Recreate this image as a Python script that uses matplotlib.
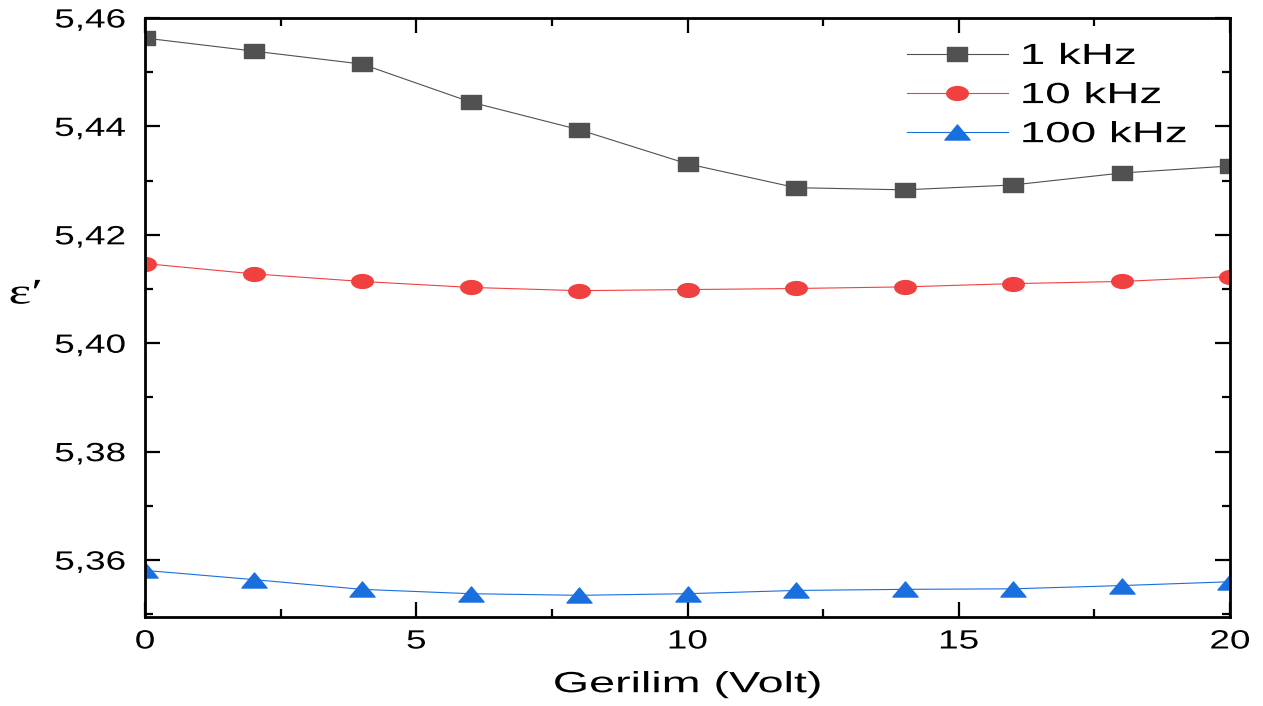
import matplotlib
matplotlib.use('Agg')
import numpy as np
import matplotlib.pyplot as plt
import matplotlib.patheffects as pe
from matplotlib.path import Path
from matplotlib.transforms import Affine2D
from matplotlib.ticker import MultipleLocator, FuncFormatter

plt.rcParams['font.family'] = ['Liberation Sans', 'DejaVu Sans']

volt = [0, 2, 4, 6, 8, 10, 12, 14, 16, 18, 20]
eps_1k = [5.4563, 5.4539, 5.4515, 5.4445, 5.4394, 5.4331, 5.4287, 5.4283, 5.4292, 5.4314, 5.4327]
eps_10k = [5.4147, 5.4128, 5.4114, 5.4103, 5.4097, 5.4099, 5.4101, 5.4104, 5.4110, 5.4114, 5.4123]
eps_100k = [5.3581, 5.3564, 5.3546, 5.3538, 5.3535, 5.3538, 5.3544, 5.3546, 5.3547, 5.3553, 5.3560]


# the original picture is stretched sideways, so text gets widened too
class Stretch(pe.AbstractPathEffect):
    def __init__(self, sx, anchor='center'):
        super().__init__()
        self.sx = sx
        self.anchor = anchor

    def draw_path(self, renderer, gc, tpath, affine, rgbFace=None):
        ext = tpath.get_extents()
        a = {'left': ext.x0, 'center': (ext.x0 + ext.x1) / 2, 'right': ext.x1}[self.anchor]
        t = Affine2D().translate(-a, 0).scale(self.sx, 1).translate(a, 0) + affine
        renderer.draw_path(gc, tpath, t, rgbFace)


# wide markers to match the stretched look
sq = Path([(-0.72, -0.5), (0.72, -0.5), (0.72, 0.5), (-0.72, 0.5), (-0.72, -0.5)],
          [1, 2, 2, 2, 79])
th = np.linspace(0, 2 * np.pi, 60)
ell = Path(np.column_stack([0.78 * np.cos(th), 0.5 * np.sin(th)]), closed=True)
tri = Path([(-0.83, -0.5), (0.83, -0.5), (0, 0.5), (-0.83, -0.5)], [1, 2, 2, 79])

fig = plt.figure(figsize=(12.63, 7.06), dpi=100)
ax = fig.add_axes([145/1263, 1-617/706, (1230-145)/1263, (617-18)/706])

ax.plot(volt, eps_1k, color='#515151', lw=0.8, marker=sq, ms=14, label='1 kHz')
ax.plot(volt, eps_10k, color='#F14040', lw=0.8, marker=ell, ms=15.5, label='10 kHz')
ax.plot(volt, eps_100k, color='#1A6FDF', lw=0.8, marker=tri, ms=18, label='100 kHz')

ax.set_xlim(0, 20)
ax.set_ylim(5.3495, 5.46)
ax.xaxis.set_major_locator(MultipleLocator(5))
ax.xaxis.set_minor_locator(MultipleLocator(2.5))
ax.yaxis.set_major_locator(MultipleLocator(0.02))
ax.yaxis.set_minor_locator(MultipleLocator(0.01))
ax.yaxis.set_major_formatter(FuncFormatter(lambda v, p: f'{v:.2f}'.replace('.', ',')))

ax.tick_params(which='both', direction='in', top=True, right=True, labelsize=19, width=1.6)
ax.tick_params(which='major', length=11)
ax.tick_params(which='minor', length=5.5)
ax.tick_params(axis='y', pad=14)
ax.tick_params(axis='x', pad=9)
for s in ax.spines.values():
    s.set_linewidth(2)

for lbl in ax.get_xticklabels():
    lbl.set_path_effects([Stretch(1.4, 'center')])
for lbl in ax.get_yticklabels():
    lbl.set_path_effects([Stretch(1.4, 'right')])

xl = ax.set_xlabel('Gerilim (Volt)', fontsize=21, labelpad=12)
xl.set_path_effects([Stretch(1.6, 'center')])
yl = ax.set_ylabel("ε′", fontsize=26, rotation=0, family='Liberation Serif')
ax.yaxis.set_label_coords(-0.11, 0.51)
yl.set_path_effects([Stretch(1.5, 'center')])

leg = ax.legend(loc='upper left', frameon=False, fontsize=21, handlelength=3.46,
                handletextpad=0.45, labelspacing=0.38, borderpad=0, borderaxespad=0,
                bbox_to_anchor=(907/1263, 1-42/706), bbox_transform=fig.transFigure)
for t in leg.get_texts():
    t.set_path_effects([Stretch(1.57, 'left')])

fig.savefig('out.png', dpi=100)
